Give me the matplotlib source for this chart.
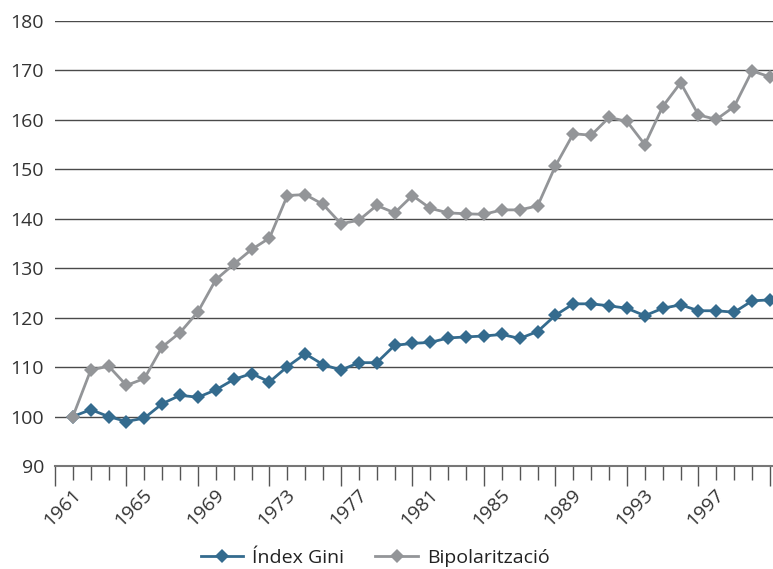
import matplotlib.pyplot as plt
from matplotlib.transforms import ScaledTranslation

plt.rcParams['font.family'] = ['Open Sans', 'DejaVu Sans']

years = list(range(1961, 2001))

gini = [100.0, 101.4, 100.0, 99.0, 99.7, 102.6, 104.3, 103.9, 105.4, 107.5,
        108.7, 107.0, 110.1, 112.7, 110.5, 109.4, 110.9, 110.9, 114.4, 114.8,
        115.0, 115.9, 116.1, 116.3, 116.6, 115.8, 117.2, 120.5, 122.8, 122.8,
        122.4, 121.9, 120.4, 121.9, 122.6, 121.4, 121.4, 121.1, 123.4, 123.6]

bipol = [100.0, 109.4, 110.2, 106.3, 107.7, 114.1, 117.0, 121.2, 127.7, 130.8,
         133.8, 136.1, 144.7, 144.9, 142.9, 139.0, 139.7, 142.7, 141.2, 144.7,
         142.1, 141.2, 141.0, 140.9, 141.8, 141.8, 142.6, 150.7, 157.2, 156.9,
         160.5, 159.7, 155.0, 162.7, 167.5, 161.0, 160.1, 162.7, 169.9, 168.7]

labels = ['Índex Gini', 'Bipolarització']
colors = ['#346b8e', '#939598']

yticks = list(range(90, 181, 10))
long_ticks = list(range(1960, 2001, 4))
short_ticks = [y for y in range(1960, 2001) if y not in long_ticks]
label_years = list(range(1961, 2000, 4))

fig = plt.figure(figsize=(7.73, 5.69), dpi=100)
ax = fig.add_axes([55 / 773, 1 - 466 / 569, 718 / 773, 445 / 569])

for series, label, color in zip([gini, bipol], labels, colors):
    ax.plot(years, series, color=color, lw=2.0, marker='D', markersize=7.5,
            markeredgewidth=0, label=label, clip_on=False)

ax.set_ylim(90, 180)
ax.set_xlim(1960, 2000.17)
ax.set_yticks(yticks)
ax.tick_params(axis='y', length=0, pad=8, labelsize=14, labelcolor='#333333')
for y in yticks[1:]:
    ax.axhline(y, color='#4a4a4a', lw=1.0, zorder=0)

ax.set_xticks(long_ticks)
ax.set_xticklabels([])
ax.tick_params(axis='x', which='major', length=14.5, width=1.0, color='#555555')
ax.set_xticks(short_ticks, minor=True)
ax.set_xticklabels([str(y) if y in label_years else '' for y in short_ticks],
                   minor=True, rotation=45, ha='right', va='center',
                   rotation_mode='anchor')
ax.tick_params(axis='x', which='minor', length=10, width=1.0, color='#555555',
               pad=9, labelsize=14, labelcolor='#333333')
shift = ScaledTranslation(5 / 100, 0, fig.dpi_scale_trans)
for lab in ax.get_xticklabels(minor=True):
    lab.set_transform(lab.get_transform() + shift)

for side in ['left', 'right', 'top']:
    ax.spines[side].set_visible(False)
ax.spines['bottom'].set_color('#777777')
ax.spines['bottom'].set_linewidth(1.5)

fig.legend(loc='center', bbox_to_anchor=(375 / 773, 11 / 569), ncol=2,
           frameon=False, fontsize=14, handlelength=2.2, handletextpad=0.45,
           columnspacing=1.6, labelcolor='#222222')

plt.savefig('out.png', dpi=100)
